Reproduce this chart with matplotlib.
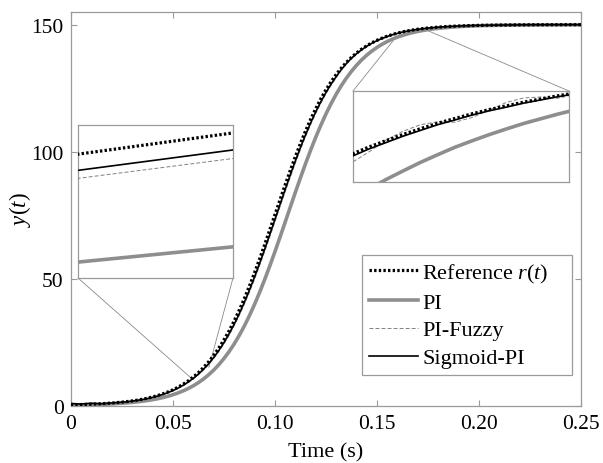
import matplotlib
matplotlib.use('Agg')
import matplotlib.pyplot as plt
from matplotlib.patches import ConnectionPatch
import numpy as np

# Step responses (time in s, output y(t))
time_s = np.array([
    0, 0.005, 0.01, 0.015, 0.02, 0.025,
    0.0275, 0.03, 0.0325, 0.035, 0.0375, 0.04, 0.0425, 0.045, 0.0475, 0.05,
    0.0525, 0.055, 0.0575, 0.06, 0.0625, 0.065, 0.0675, 0.07, 0.0725, 0.075,
    0.0775, 0.08, 0.0825, 0.085, 0.0875, 0.09, 0.0925, 0.095, 0.0975, 0.1,
    0.1025, 0.105, 0.1075, 0.11, 0.1125, 0.115, 0.1175, 0.12, 0.1225, 0.125,
    0.1275, 0.13, 0.1325, 0.135, 0.1375, 0.14, 0.1425, 0.145, 0.1475, 0.15,
    0.1525, 0.155, 0.1575,
    0.15875, 0.16, 0.16125, 0.1625, 0.16375, 0.165, 0.16625, 0.1675, 0.16875,
    0.17, 0.17125, 0.1725, 0.17375, 0.175,
    0.18, 0.185, 0.19, 0.195, 0.2,
    0.21, 0.22, 0.23, 0.24, 0.25,
])

reference = np.array([
    0.28, 0.38, 0.52, 0.71, 0.96, 1.32,
    1.54, 1.80, 2.10, 2.46, 2.87, 3.35, 3.90, 4.55, 5.30, 6.16,
    7.17, 8.32, 9.65, 11.17, 12.91, 14.90, 17.15, 19.69, 22.54, 25.73,
    29.26, 33.15, 37.39, 41.98, 46.90, 52.13, 57.60, 63.28, 69.11, 75.00,
    80.89, 86.72, 92.40, 97.87, 103.10, 108.02, 112.61, 116.85, 120.74, 124.27,
    127.46, 130.31, 132.85, 135.10, 137.09, 138.83, 140.35, 141.68, 142.84, 143.84,
    144.70, 145.45, 146.10,
    146.39, 146.65, 146.90, 147.13, 147.35, 147.54, 147.73, 147.90, 148.05,
    148.20, 148.33, 148.46, 148.57, 148.68,
    149.04, 149.30, 149.49, 149.62, 149.73,
    149.85, 149.92, 149.96, 149.98, 149.99,
])

pi_ctrl = np.array([
    0.00, 0.10, 0.22, 0.40, 0.65, 0.90,
    1.05, 1.22, 1.43, 1.67, 1.95, 2.28, 2.66, 3.11, 3.63, 4.23,
    4.92, 5.73, 6.66, 7.74, 8.98, 10.41, 12.04, 13.90, 16.02, 18.42,
    21.11, 24.13, 27.49, 31.20, 35.27, 39.69, 44.44, 49.52, 54.87, 60.44,
    66.19, 72.05, 77.95, 83.81, 89.56, 95.13, 100.48, 105.56, 110.31, 114.73,
    118.80, 122.51, 125.87, 128.89, 131.58, 133.98, 136.10, 137.96, 139.59, 141.02,
    142.26, 143.34, 144.27,
    144.69, 145.08, 145.43, 145.77, 146.08, 146.38, 146.64, 146.89, 147.12,
    147.34, 147.53, 147.72, 147.89, 148.05,
    148.57, 148.95, 149.23, 149.44, 149.59,
    149.77, 149.88, 149.93, 149.96, 149.98,
])

pi_fuzzy = np.array([
    0.20, 0.35, 0.50, 0.65, 0.90, 1.20,
    1.42, 1.67, 1.95, 2.28, 2.66, 3.10, 3.62, 4.22, 4.91, 5.72,
    6.65, 7.73, 8.97, 10.39, 12.03, 13.89, 16.01, 18.40, 21.10, 24.13,
    27.49, 31.21, 35.28, 39.72, 44.49, 49.58, 54.94, 60.54, 66.31, 72.19,
    78.10, 83.97, 89.74, 95.32, 100.68, 105.75, 110.50, 114.91, 118.97, 122.67,
    126.02, 129.03, 132.05, 134.55, 136.70, 138.55, 140.12, 141.45, 142.55, 143.52,
    144.37, 145.12, 145.76,
    146.19, 146.67, 147.03, 147.29, 147.41, 147.39, 147.58, 147.88, 148.19,
    148.37, 148.41, 148.36, 148.51, 148.72,
    149.09, 149.25, 149.50, 149.64, 149.70,
    149.87, 149.91, 149.96, 149.98, 149.99,
])

sigmoid_pi = np.array([
    0.80, 0.60, 0.90, 0.70, 1.00, 1.30,
    1.45, 1.75, 2.03, 2.34, 2.73, 3.19, 3.72, 4.33, 5.04, 5.86,
    6.82, 7.93, 9.20, 10.65, 12.32, 14.23, 16.39, 18.83, 21.58, 24.66,
    28.08, 31.86, 35.99, 40.47, 45.29, 50.43, 55.83, 61.45, 67.24, 73.12,
    79.03, 84.89, 90.63, 96.17, 101.49, 106.51, 111.21, 115.56, 119.56, 123.21,
    126.50, 129.45, 132.24, 134.63, 136.74, 138.53, 140.10, 141.48, 142.67, 143.69,
    144.58, 145.35, 146.01,
    146.31, 146.57, 146.83, 147.06, 147.29, 147.48, 147.68, 147.85, 148.00,
    148.16, 148.29, 148.42, 148.54, 148.65,
    149.01, 149.28, 149.47, 149.61, 149.72,
    149.85, 149.92, 149.96, 149.97, 149.98,
])

x_ticks = [0, 0.05, 0.10, 0.15, 0.20, 0.25]
x_tick_labels = ['0', '0.05', '0.10', '0.15', '0.20', '0.25']
y_ticks = [0, 50, 100, 150]

# zoom windows shown in the two insets
left_zoom_x, left_zoom_y = (0.063, 0.064), (8.67, 14.40)
right_zoom_x, right_zoom_y = (0.1576, 0.1733), (144.98, 148.65)

plt.rcParams['font.family'] = 'Liberation Serif'
plt.rcParams['mathtext.fontset'] = 'custom'
plt.rcParams['mathtext.rm'] = 'Liberation Serif'
plt.rcParams['mathtext.it'] = 'Liberation Serif:italic'

EDGE = '#9a9a9a'


def draw_series(ax):
    """Draws the four responses on an axes."""
    ax.plot(time_s, pi_ctrl, color='#8e8e8e', lw=2.6, label='PI', zorder=3)
    ax.plot(time_s, pi_fuzzy, color='#808080', lw=0.7, ls=(0, (4, 2.2)),
            label='PI-Fuzzy', zorder=4)
    ax.plot(time_s, sigmoid_pi, color='black', lw=1.2, label='Sigmoid-PI', zorder=5)
    ax.plot(time_s, reference, color='black', lw=2.3, ls=(0, (0.75, 0.7)),
            label='Reference $r(t)$', zorder=6)


def style_box(ax):
    for sp in ax.spines.values():
        sp.set_color(EDGE)
        sp.set_linewidth(0.9)


fig = plt.figure(figsize=(6.03, 4.64), dpi=100)
ax = fig.add_axes([0.1172, 0.1239, 0.8463, 0.8481])
draw_series(ax)
ax.set_xlim(0, 0.25)
ax.set_ylim(0, 155)
ax.set_xticks(x_ticks)
ax.set_xticklabels(x_tick_labels)
ax.set_yticks(y_ticks)
ax.tick_params(direction='in', top=True, right=True, color=EDGE, length=4,
               width=0.8, labelsize=15.5)
ax.tick_params(axis='x', pad=6)
ax.tick_params(axis='y', pad=5)
style_box(ax)
ax.set_xlabel('Time (s)', fontsize=16, labelpad=7)
ax.set_ylabel('$y(t)$', fontsize=16.5, labelpad=-1)

h, l = ax.get_legend_handles_labels()
order = [3, 0, 1, 2]
leg = ax.legend([h[i] for i in order], [l[i] for i in order],
                loc='lower left', bbox_to_anchor=(0.571, 0.0775, 0.4115, 0.3),
                mode='expand', borderaxespad=0, fontsize=16, handlelength=2.2,
                handletextpad=0.2, borderpad=0.3, labelspacing=0.33,
                fancybox=False, framealpha=1)
leg.get_frame().set_edgecolor(EDGE)
leg.get_frame().set_linewidth(0.9)

# insets
ax_left = fig.add_axes([0.1294, 0.3987, 0.2570, 0.3297])
ax_right = fig.add_axes([0.5854, 0.6056, 0.3582, 0.1961])
for ins, zx, zy in [(ax_left, left_zoom_x, left_zoom_y),
                    (ax_right, right_zoom_x, right_zoom_y)]:
    draw_series(ins)
    ins.set_xlim(*zx)
    ins.set_ylim(*zy)
    ins.set_xticks([])
    ins.set_yticks([])
    style_box(ins)

# connector lines from inset corners to the zoomed spots
links = [
    (ax_left, (0, 0), (0.0599, 10.2)),
    (ax_left, (1, 0), (0.0677, 15.0)),
    (ax_right, (0, 1), (0.1579, 143.6)),
    (ax_right, (1, 1), (0.1751, 147.6)),
]
for ins, corner, target in links:
    con = ConnectionPatch(xyA=corner, coordsA=ins.transAxes, xyB=target,
                          coordsB=ax.transData, color='#8a8a8a', lw=0.6, zorder=1)
    ax.add_artist(con)

fig.savefig('out.png', dpi=100)
